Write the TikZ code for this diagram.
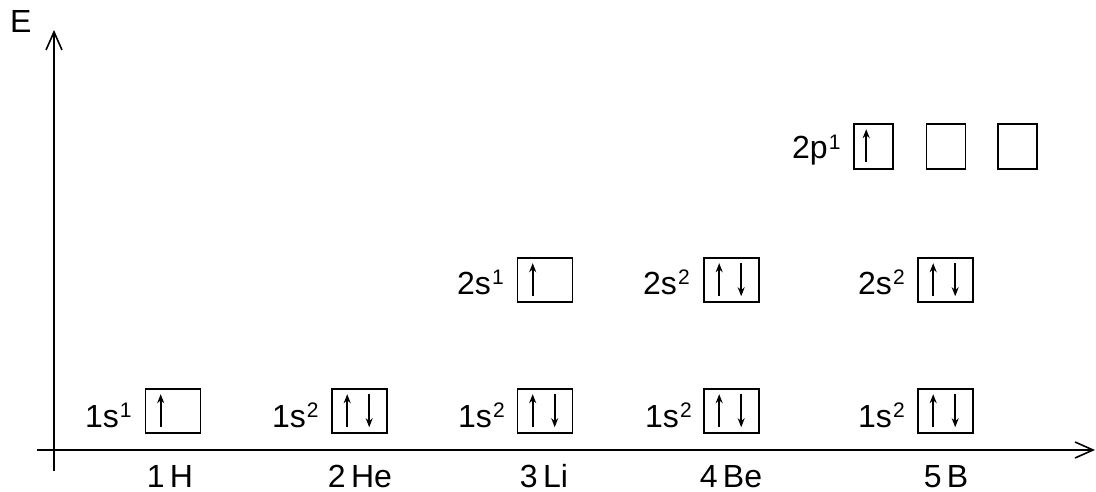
\documentclass[tikz,border=0pt]{standalone}
\usepackage{fontspec}
\setmainfont{Liberation Sans}
\usetikzlibrary{arrows.meta}
\newcommand\myup[1]{\hspace{1pt}\raisebox{9.5pt}{\fontsize{21}{21}\selectfont #1}}
\begin{document}
\begin{tikzpicture}[x=1pt,y=-1pt,
  font=\fontsize{32}{36}\selectfont,
  axis/.style={line width=1.6pt,-{Straight Barb[length=18pt,width=16pt,line width=1.6pt]}},
  sbox/.style={draw,line width=1.6pt,minimum width=55pt,minimum height=44pt,inner sep=0pt},
  pbox/.style={draw,line width=1.6pt,minimum width=39pt,minimum height=45pt,inner sep=0pt},
  lbl/.style={inner sep=0pt,anchor=base west},
  spin/.style={line width=1.7pt,-{Stealth[length=9pt,width=7pt]}}]
\useasboundingbox (0,0) rectangle (1096,492);
% axes
\coordinate (yo) at (54,471);
\coordinate (yt) at (54,30);
\coordinate (xo) at (37,450);
\coordinate (xt) at (1095,450);
\draw[axis] (yo) -- (yt);
\draw[axis] (xo) -- (xt);
\node[lbl] (E) at (10,33) {E};
% 1s row
\node[sbox] (bH) at (173,411) {};
\node[sbox] (bHe) at (359.5,411) {};
\node[sbox] (bLi1) at (545,411) {};
\node[sbox] (bBe1) at (731.5,411) {};
\node[sbox] (bB1) at (945.5,411) {};
% 2s row
\node[sbox] (bLi2) at (545,280) {};
\node[sbox] (bBe2) at (731.5,280) {};
\node[sbox] (bB2) at (945.5,280) {};
% 2p row
\node[pbox] (p1) at (873.5,146.5) {};
\node[pbox] (p2) at (946,146.5) {};
\node[pbox] (p3) at (1017.5,146.5) {};
% labels
\node[lbl] (lH) at (85,427) {1s\myup{1}};
\node[lbl] (lHe) at (272,427) {1s\myup{2}};
\node[lbl] (lLi1) at (458,427) {1s\myup{2}};
\node[lbl] (lBe1) at (645,427) {1s\myup{2}};
\node[lbl] (lB1) at (858,427) {1s\myup{2}};
\node[lbl] (lLi2) at (457,294) {2s\myup{1}};
\node[lbl] (lBe2) at (643,294) {2s\myup{2}};
\node[lbl] (lB2) at (858,294) {2s\myup{2}};
\node[lbl] (lp) at (792,159) {2p\myup{1}};
% element labels
\node[lbl,anchor=base] (eH) at (170,487) {1\,H};
\node[lbl,anchor=base] (eHe) at (360,487) {2\,He};
\node[lbl,anchor=base] (eLi) at (544,487) {3\,Li};
\node[lbl,anchor=base] (eBe) at (731,487) {4\,Be};
\node[lbl,anchor=base] (eB) at (946,487) {5\,B};
% spins
\foreach \b in {bH,bLi2} {
  \draw[spin] ([xshift=16pt,yshift=-39pt]\b.north west) -- ([xshift=16pt,yshift=-6pt]\b.north west);
}
\foreach \b in {bHe,bLi1,bBe1,bB1,bBe2,bB2} {
  \draw[spin] ([xshift=16pt,yshift=-39pt]\b.north west) -- ([xshift=16pt,yshift=-6pt]\b.north west);
  \draw[spin] ([xshift=38pt,yshift=-6pt]\b.north west) -- ([xshift=38pt,yshift=-39pt]\b.north west);
}
\draw[spin] ([xshift=13pt,yshift=-39pt]p1.north west) -- ([xshift=13pt,yshift=-6pt]p1.north west);
\end{tikzpicture}
\end{document}
